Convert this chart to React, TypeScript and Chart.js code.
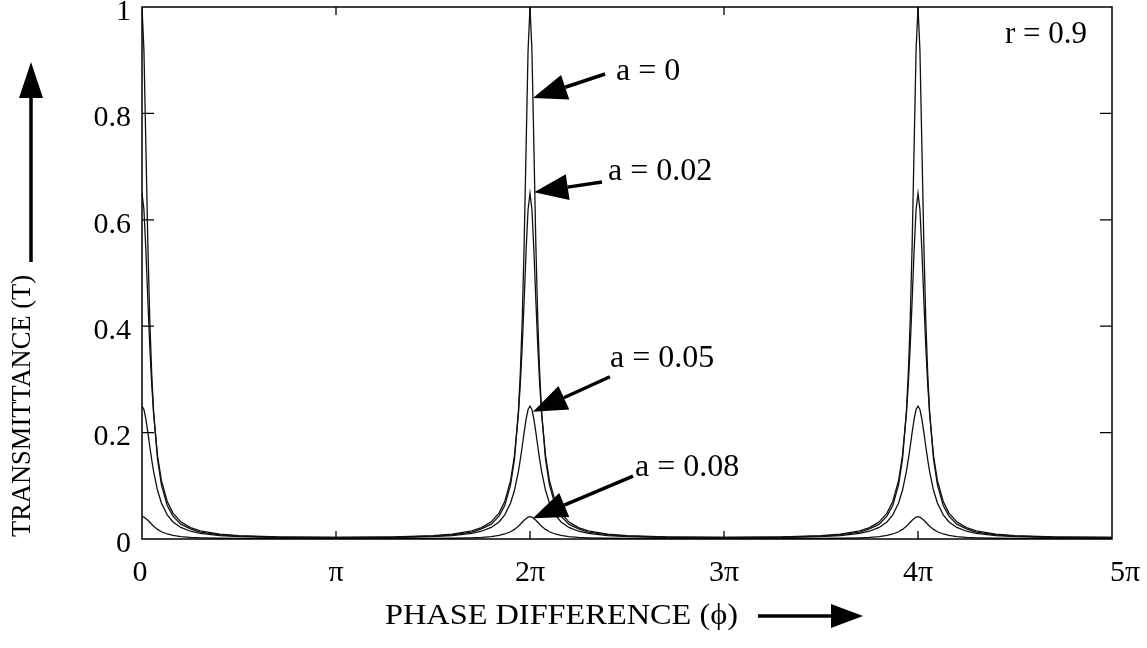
import React, { useEffect, useRef } from "react";
import { Chart, registerables } from "chart.js";

Chart.register(...registerables);

// ---- data (phase in units of π) ----
const peakCenters = [0, 2, 4];
const phaseOffsets = [0, 0.01, 0.02, 0.03, 0.04, 0.05, 0.06, 0.08, 0.1, 0.13, 0.16, 0.2, 0.25, 0.3, 0.4, 0.5, 0.7, 1.0];
const transA0 = [1.0, 0.918, 0.738, 0.556, 0.413, 0.311, 0.238, 0.15, 0.102, 0.063, 0.043, 0.028, 0.019, 0.013, 0.008, 0.0055, 0.0035, 0.0028];
const transA002 = [0.65, 0.619, 0.543, 0.45, 0.363, 0.291, 0.235, 0.157, 0.11, 0.0705, 0.0487, 0.0323, 0.0215, 0.0154, 0.0093, 0.0064, 0.0041, 0.0032];
const transA005 = [0.25, 0.2434, 0.2255, 0.201, 0.1744, 0.1491, 0.1266, 0.0916, 0.0677, 0.0453, 0.0321, 0.0217, 0.0146, 0.0106, 0.0064, 0.0045, 0.0028, 0.0023];
const transA008 = [0.042, 0.0411, 0.0387, 0.0353, 0.0315, 0.0276, 0.024, 0.018, 0.0136, 0.0094, 0.0067, 0.0046, 0.0031, 0.0023, 0.0014, 0.001, 0.0006, 0.0005];

const xTickValues = [0, 1, 2, 3, 4, 5];
const xTickLabels = ["0", "π", "2π", "3π", "4π", "5π"];
const yTickValues = [0, 0.2, 0.4, 0.6, 0.8, 1];
const yTickLabels = ["0", "0.2", "0.4", "0.6", "0.8", "1"];

const annotationLabels = ["a = 0", "a = 0.02", "a = 0.05", "a = 0.08"];
const annotationTipX = [2.015, 2.021, 2.015, 2.015];
const annotationTipY = [0.829, 0.652, 0.239, 0.039];
const annotationTailX = [2.387, 2.371, 2.412, 2.531];
const annotationTailY = [0.874, 0.671, 0.305, 0.118];
const annotationTextX = [2.443, 2.402, 2.412, 2.541];
const annotationTextY = [0.878, 0.69, 0.34, 0.135];

const paramLabel = "r = 0.9";
const paramX = 4.448;
const paramY = 0.947;

const xTitle = "PHASE DIFFERENCE (ϕ)";
const yTitle = "TRANSMITTANCE (T)";

const FONT = "'Liberation Serif', 'DejaVu Serif', serif";

function buildSeries(vals: number[]) {
  const pts: { x: number; y: number }[] = [];
  for (const c of peakCenters) {
    for (let i = phaseOffsets.length - 1; i > 0; i--) {
      const x = c - phaseOffsets[i];
      if (x >= 0) pts.push({ x, y: vals[i] });
    }
    for (let i = 0; i < phaseOffsets.length; i++) {
      const x = c + phaseOffsets[i];
      if (x <= 5) pts.push({ x, y: vals[i] });
    }
  }
  pts.sort((a, b) => a.x - b.x);
  return pts.filter((p, i) => i === 0 || Math.abs(p.x - pts[i - 1].x) > 1e-9);
}

function drawArrow(ctx: CanvasRenderingContext2D, x0: number, y0: number, x1: number, y1: number, lw: number, headLen: number, headHalf: number) {
  const ang = Math.atan2(y1 - y0, x1 - x0);
  const bx = x1 - headLen * Math.cos(ang);
  const by = y1 - headLen * Math.sin(ang);
  ctx.save();
  ctx.strokeStyle = "#000";
  ctx.fillStyle = "#000";
  ctx.lineWidth = lw;
  ctx.beginPath();
  ctx.moveTo(x0, y0);
  ctx.lineTo(bx, by);
  ctx.stroke();
  ctx.beginPath();
  ctx.moveTo(x1, y1);
  ctx.lineTo(bx + headHalf * Math.sin(ang), by - headHalf * Math.cos(ang));
  ctx.lineTo(bx - headHalf * Math.sin(ang), by + headHalf * Math.cos(ang));
  ctx.closePath();
  ctx.fill();
  ctx.restore();
}

const decorPlugin = {
  id: "decor",
  afterDraw(chart: any) {
    const ctx: CanvasRenderingContext2D = chart.ctx;
    const xs = chart.scales.x;
    const ys = chart.scales.y;
    const { left, right, top, bottom } = chart.chartArea;
    ctx.save();
    // frame
    ctx.strokeStyle = "#000";
    ctx.lineWidth = 1.5;
    ctx.strokeRect(left, top, right - left, bottom - top);
    // inward ticks
    ctx.lineWidth = 1.3;
    ctx.beginPath();
    for (const v of xTickValues) {
      if (v === 0 || v === 5) continue;
      const px = xs.getPixelForValue(v);
      ctx.moveTo(px, bottom);
      ctx.lineTo(px, bottom - 8);
      ctx.moveTo(px, top);
      ctx.lineTo(px, top + 8);
    }
    for (const v of yTickValues) {
      if (v === 0 || v === 1) continue;
      const py = ys.getPixelForValue(v);
      ctx.moveTo(left, py);
      ctx.lineTo(left + 12, py);
      ctx.moveTo(right, py);
      ctx.lineTo(right - 12, py);
    }
    ctx.stroke();

    // tick labels
    ctx.fillStyle = "#000";
    ctx.font = `30px ${FONT}`;
    ctx.textBaseline = "middle";
    ctx.textAlign = "right";
    yTickValues.forEach((v, i) => {
      ctx.fillText(yTickLabels[i], left - 11, ys.getPixelForValue(v) + 5);
    });
    ctx.textAlign = "center";
    xTickValues.forEach((v, i) => {
      const shift = i === 0 ? -2 : i === xTickValues.length - 1 ? 13 : 0;
      ctx.fillText(xTickLabels[i], xs.getPixelForValue(v) + shift, bottom + 34);
    });

    // annotations
    ctx.font = `32px ${FONT}`;
    ctx.textAlign = "left";
    ctx.textBaseline = "middle";
    for (let i = 0; i < annotationLabels.length; i++) {
      const tx = xs.getPixelForValue(annotationTextX[i]);
      const ty = ys.getPixelForValue(annotationTextY[i]);
      ctx.fillText(annotationLabels[i], tx, ty);
      drawArrow(
        ctx,
        xs.getPixelForValue(annotationTailX[i]),
        ys.getPixelForValue(annotationTailY[i]),
        xs.getPixelForValue(annotationTipX[i]),
        ys.getPixelForValue(annotationTipY[i]),
        3.5,
        34,
        13
      );
    }
    ctx.font = `31px ${FONT}`;
    ctx.fillText(paramLabel, xs.getPixelForValue(paramX), ys.getPixelForValue(paramY));

    // x title
    ctx.font = `29px ${FONT}`;
    ctx.textAlign = "left";
    ctx.textBaseline = "middle";
    {
      const w = ctx.measureText(xTitle).width;
      const target = 353;
      ctx.save();
      ctx.translate(385, 616);
      ctx.scale(target / w, 1);
      ctx.fillText(xTitle, 0, 0);
      ctx.restore();
      drawArrow(ctx, 758, 616, 863, 616, 3.5, 32, 12);
    }
    // y title
    {
      ctx.font = `28px ${FONT}`;
      const w = ctx.measureText(yTitle).width;
      const target = 262;
      ctx.save();
      ctx.translate(23, 537);
      ctx.rotate(-Math.PI / 2);
      ctx.scale(target / w, 1);
      ctx.fillText(yTitle, 0, 0);
      ctx.restore();
      drawArrow(ctx, 31, 262, 31, 62, 3.5, 36, 12);
    }
    ctx.restore();
  },
};

export default function App() {
  const canvasRef = useRef<HTMLCanvasElement | null>(null);

  useEffect(() => {
    if (!canvasRef.current) return;
    const series = [transA0, transA002, transA005, transA008];
    const chart = new Chart(canvasRef.current, {
      type: "line",
      data: {
        datasets: series.map((vals, i) => ({
          label: annotationLabels[i],
          data: buildSeries(vals),
          borderColor: "#111",
          borderWidth: 1.3,
          pointRadius: 0,
          fill: false,
          tension: 0,
        })),
      },
      options: {
        animation: false,
        responsive: false,
        devicePixelRatio: 1,
        events: [],
        layout: { padding: { top: 7, right: 35, left: 0, bottom: 0 } },
        plugins: { legend: { display: false }, tooltip: { enabled: false }, title: { display: false } },
        scales: {
          x: {
            type: "linear",
            min: 0,
            max: 5,
            afterBuildTicks: (s: any) => {
              s.ticks = xTickValues.map((v) => ({ value: v }));
            },
            afterFit: (s: any) => {
              s.height = 109;
            },
            ticks: { display: false },
            grid: { display: false, drawTicks: false },
            border: { display: false },
          },
          y: {
            type: "linear",
            min: 0,
            max: 1,
            afterBuildTicks: (s: any) => {
              s.ticks = yTickValues.map((v) => ({ value: v }));
            },
            afterFit: (s: any) => {
              s.width = 142;
            },
            ticks: { display: false },
            grid: { display: false, drawTicks: false },
            border: { display: false },
          },
        },
      },
      plugins: [decorPlugin],
    });
    return () => chart.destroy();
  }, []);

  return (
    <div style={{ position: "absolute", left: 0, top: 0, width: 1147, height: 648, background: "#fff" }}>
      <canvas ref={canvasRef} width={1147} height={648} style={{ display: "block" }} />
    </div>
  );
}
